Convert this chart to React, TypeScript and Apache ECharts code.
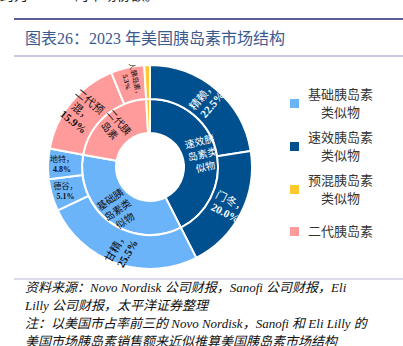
import React, { useEffect, useRef } from 'react';
import * as echarts from 'echarts';

// Inner ring: market groups (share, %)
const innerNames = ['速效胰岛素类似物', '基础胰岛素类似物', '二代胰岛素', '预混胰岛素类似物'];
const innerValues = [42.5, 35.4, 21.2, 0.9];

// Outer ring: products (share, %)
const outerNames = ['精赖', '门冬', '甘精', '德谷', '地特', '二代预混', '人胰岛素', '预混'];
const outerLabels = ['精赖，', '门冬，', '甘精，', '德谷，', '地特，', '二代预\n混，', '人胰岛素，', ''];
const outerValues = [22.5, 20.0, 25.5, 5.1, 4.8, 15.9, 5.3, 0.9];
const outerGroup = [0, 0, 1, 1, 1, 2, 2, 3];

// Legend
const legendNames = ['基础胰岛素类似物', '速效胰岛素类似物', '预混胰岛素类似物', '二代胰岛素'];
const legendLabels = ['基础胰岛素\n　类似物', '速效胰岛素\n　类似物', '预混胰岛素\n　类似物', '二代胰岛素'];

const titleText = '图表26：2023 年美国胰岛素市场结构';
const topCutText = '约为 19.96%的市场份额。';
const footerLines = [
  '资料来源：Novo Nordisk 公司财报，Sanofi 公司财报，Eli',
  'Lilly 公司财报，太平洋证券整理',
  '注：以美国市占率前三的 Novo Nordisk，Sanofi 和 Eli Lilly 的',
  '美国市场胰岛素销售额来近似推算美国胰岛素市场结构',
];

const FONT = "'Liberation Serif', 'Noto Sans CJK SC', serif";

function buildOption() {
  const groupColors = ['#00508F', '#6CB4F9', '#FF9B9B', '#FFC82C'];
  const groupText = ['#ffffff', '#111111', '#111111', '#111111'];
  const outerFont = [11, 11, 11, 8, 8, 11, 7, 7];
  const outerRotate: any[] = ['radial', 'radial', 60, 0, 0, 'radial', 'radial', 0];
  const innerRotate: any[] = ['radial', 35, 'radial', 0];

  const wrap3 = (s: string) => (s.match(/.{1,3}/g) || []).join('\n');

  const legendTops = [85.5, 128.5, 171.5, 222.5];

  return {
    animation: false,
    legend: legendNames.map((n, i) => ({
      data: [n],
      orient: 'vertical',
      left: 290,
      top: legendTops[i],
      padding: 0,
      itemWidth: 9,
      itemHeight: 9,
      icon: 'rect',
      selectedMode: false,
      itemStyle: { borderWidth: 0 },
      formatter: () => legendLabels[i],
      textStyle: { fontSize: 13, lineHeight: 18, color: '#333', fontFamily: FONT, padding: [0, 0, 0, 4] },
    })),
    series: [
      {
        type: 'pie',
        center: [150, 167],
        radius: [34, 68],
        startAngle: 90,
        clockwise: true,
        avoidLabelOverlap: false,
        silent: true,
        labelLayout: { hideOverlap: false },
        itemStyle: { borderColor: '#fff', borderWidth: 2 },
        labelLine: { show: false },
        label: { position: 'inside', fontSize: 10, fontFamily: FONT, lineHeight: 13, overflow: 'none' },
        data: innerNames.map((n, i) => ({
          name: n,
          value: innerValues[i],
          itemStyle: { color: groupColors[i] },
          label: { show: i < 3, rotate: innerRotate[i], color: groupText[i], formatter: wrap3(n) },
        })),
      },
      {
        type: 'pie',
        center: [150, 167],
        radius: [68, 102],
        startAngle: 90,
        clockwise: true,
        avoidLabelOverlap: false,
        silent: true,
        labelLayout: { hideOverlap: false },
        itemStyle: { borderColor: '#fff', borderWidth: 2 },
        labelLine: { show: false },
        label: { position: 'inside', fontFamily: FONT },
        data: outerNames.map((n, i) => {
          const g = outerGroup[i];
          const fs = outerFont[i];
          return {
            name: n,
            value: outerValues[i],
            itemStyle: { color: groupColors[g] },
            label: {
              show: outerLabels[i] !== '',
              rotate: outerRotate[i],
              color: groupText[g],
              formatter: `{n|${outerLabels[i].split('\n').join('}\n{n|')}}\n{p|${outerValues[i].toFixed(1)}%}`,
              rich: {
                n: { fontSize: fs, lineHeight: fs + 2, color: groupText[g], fontFamily: FONT },
                p: { fontSize: fs, lineHeight: fs + 2, color: groupText[g], fontFamily: FONT, fontWeight: 'bold' },
              },
            },
          };
        }),
      },
    ],
    graphic: [
      { type: 'text', left: 0, top: -12, style: { text: topCutText, font: `14px ${FONT}`, fill: '#222' } },
      { type: 'line', shape: { x1: 14, y1: 19, x2: 403, y2: 19 }, style: { stroke: '#5B5D96', lineWidth: 2.2 } },
      { type: 'text', left: 25, top: 30, style: { text: titleText, font: `16px ${FONT}`, fill: '#3B5B8F' } },
      { type: 'line', shape: { x1: 14, y1: 56, x2: 403, y2: 56 }, style: { stroke: '#B7B8D4', lineWidth: 1.5 } },
      { type: 'line', shape: { x1: 14, y1: 279, x2: 403, y2: 279 }, style: { stroke: '#B7B8D4', lineWidth: 1.2 } },
      ...footerLines.map((t, i) => ({
        type: 'text',
        left: 25,
        top: 281 + i * 18,
        style: { text: t, font: `italic 13px ${FONT}`, fill: '#111' },
      })),
    ],
  };
}

export default function App() {
  const ref = useRef<HTMLDivElement>(null);
  useEffect(() => {
    if (!ref.current) return;
    const chart = echarts.init(ref.current, undefined, { renderer: 'svg' });
    chart.setOption(buildOption() as any);
    return () => chart.dispose();
  }, []);
  return (
    <div
      ref={ref}
      style={{ position: 'fixed', left: 0, top: 0, width: 403, height: 346, background: '#fff' }}
    />
  );
}
